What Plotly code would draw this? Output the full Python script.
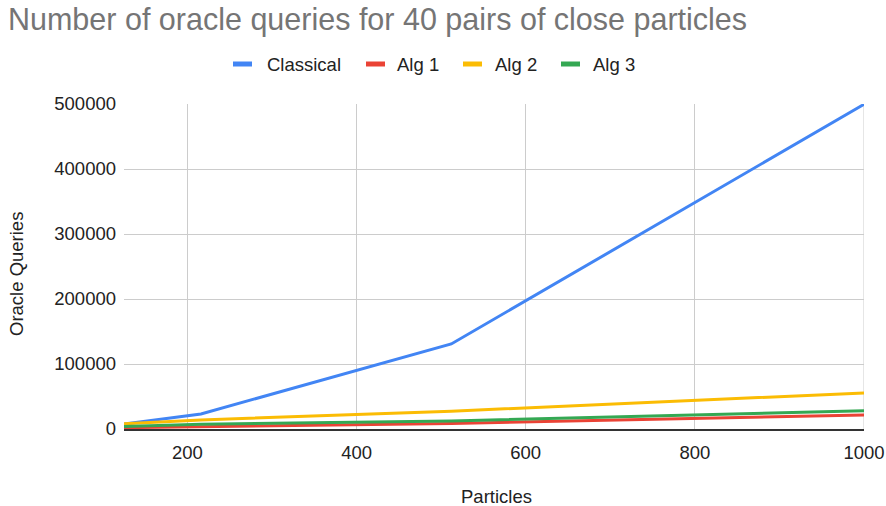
import plotly.graph_objects as go

# Number of particles (x) and oracle query counts per method
particles = [125, 216, 512, 1000]
classical = [7750, 23220, 130816, 499500]
alg1 = [2000, 3500, 8500, 21500]
alg2 = [8000, 14000, 27500, 55500]
alg3 = [4000, 7500, 12500, 28000]

series_names = ["Classical", "Alg 1", "Alg 2", "Alg 3"]
series_values = [classical, alg1, alg2, alg3]
series_colors = ["#4285F4", "#EA4335", "#FBBC04", "#34A853"]

x_ticks = [200, 400, 600, 800, 1000]
y_ticks = [0, 100000, 200000, 300000, 400000, 500000]

FONT = "Liberation Sans, Arial, sans-serif"
TEXT = "#222222"
FS = 18.5
W, H = 886, 506
ML, MR, MT, MB = 124, 22, 104, 77
PW, PH = W - ML - MR, H - MT - MB


def px_to_paper(px, py):
    """Convert page pixel coordinates to paper coordinates."""
    return (px - ML) / PW, (H - MB - py) / PH


fig = go.Figure()
for name, vals, color in zip(series_names, series_values, series_colors):
    fig.add_trace(go.Scatter(
        x=particles, y=vals, name=name, mode="lines",
        line=dict(color=color, width=3), showlegend=False,
    ))

fig.update_layout(
    width=W, height=H,
    paper_bgcolor="white", plot_bgcolor="white",
    margin=dict(l=ML, r=MR, t=MT, b=MB, autoexpand=False),
    title=dict(
        text="Number of oracle queries for 40 pairs of close particles",
        x=0.009, xanchor="left", y=1 - 19 / H, yanchor="middle",
        font=dict(family=FONT, size=30.5, color="#757575"),
    ),
    font=dict(family=FONT, size=FS, color=TEXT),
    showlegend=False,
)

fig.update_xaxes(
    range=[125, 1000], tickvals=x_ticks, ticktext=[str(v) for v in x_ticks],
    showgrid=True, gridcolor="#cccccc", gridwidth=1,
    showline=True, linecolor="#333333", linewidth=1.5,
    zeroline=False, ticks="", ticklabelstandoff=6, automargin=False,
    tickfont=dict(family=FONT, size=FS, color=TEXT),
)
fig.update_yaxes(
    range=[0, 500000], tickvals=y_ticks, ticktext=[str(v) for v in y_ticks],
    showgrid=True, gridcolor="#cccccc", gridwidth=1,
    showline=False, zeroline=False, ticks="", ticklabelstandoff=7,
    automargin=False,
    tickfont=dict(family=FONT, size=FS, color=TEXT),
)

# Right-hand border of the plot area at x = 1000
fig.add_shape(type="line", xref="x", yref="paper", x0=1000, x1=1000, y0=0, y1=1,
              line=dict(color="#cccccc", width=1), layer="below")

# Axis titles
ax, ay = px_to_paper(497, 496)
fig.add_annotation(text="Particles", xref="paper", yref="paper", x=ax, y=ay,
                   xanchor="center", yanchor="middle", showarrow=False,
                   font=dict(family=FONT, size=FS, color=TEXT))
ax, ay = px_to_paper(16, 274)
fig.add_annotation(text="Oracle Queries", xref="paper", yref="paper", x=ax, y=ay,
                   xanchor="center", yanchor="middle", showarrow=False, textangle=-90,
                   font=dict(family=FONT, size=FS, color=TEXT))

# Legend row across the top: a short thick swatch followed by the series name
legend_swatch_x = [233, 366, 463, 561]
legend_text_x = [265, 395, 493, 591]
legend_y = 64
for name, color, sx, tx in zip(series_names, series_colors, legend_swatch_x, legend_text_x):
    x0, y0 = px_to_paper(sx, legend_y)
    x1, _ = px_to_paper(sx + 19, legend_y)
    fig.add_shape(type="line", xref="paper", yref="paper", x0=x0, x1=x1, y0=y0, y1=y0,
                  line=dict(color=color, width=5))
    lx, ly = px_to_paper(tx, legend_y)
    fig.add_annotation(text=name, xref="paper", yref="paper", x=lx, y=ly,
                       xanchor="left", yanchor="middle", showarrow=False,
                       font=dict(family=FONT, size=FS, color=TEXT))

fig.write_html("out.html")
